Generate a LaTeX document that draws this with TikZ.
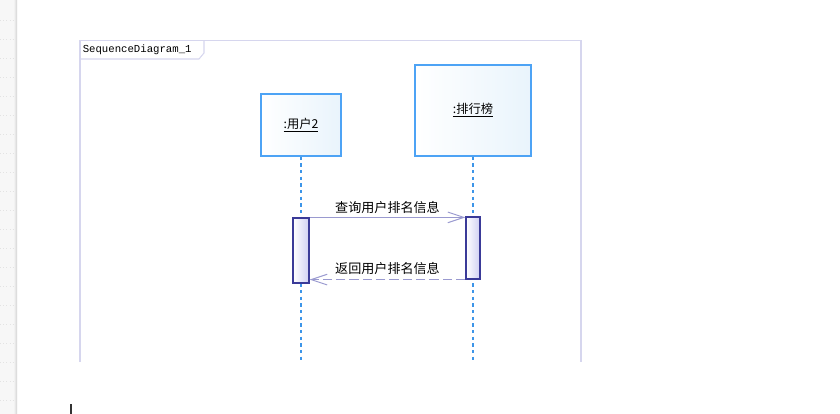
\documentclass[tikz,border=0pt]{standalone}
\usepackage{fontspec}
\usepackage{tikz}
\usetikzlibrary{arrows.meta}
\newfontfamily\cjk{Noto Sans CJK SC}
\setmonofont{Liberation Mono}
\definecolor{framecol}{HTML}{D6D6EE}
\definecolor{boxcol}{HTML}{4DA3F5}
\definecolor{boxfill}{HTML}{E9F4FC}
\definecolor{actcol}{HTML}{3A3A98}
\definecolor{actfill}{HTML}{CFCFF3}
\definecolor{msgcol}{HTML}{9A9AD0}
\definecolor{lifecol}{HTML}{3D95E8}

\begin{document}
\begin{tikzpicture}[x=.75pt,y=-.75pt,
  objbox/.style={draw=boxcol,line width=1pt,left color=white,right color=boxfill,inner sep=0pt,font=\cjk\fontsize{9.2}{10}\selectfont},
  actbox/.style={draw=actcol,line width=.9pt,left color=white,right color=actfill,inner sep=0pt},
  lifeline/.style={draw=lifecol,line width=1pt,dash pattern=on 2.5pt off 2.5pt},
  msg/.style={draw=msgcol,line width=.75pt,-{Straight Barb[length=12pt,width=8pt]}},
  msglabel/.style={font=\cjk\fontsize{9.8}{11}\selectfont,inner sep=1pt}]
\path[use as bounding box] (0,0) rectangle (840,414);

% editor margin
\shade[left color=gray!6,right color=gray!6] (0,0) rectangle (14,414);
\shade[left color=gray!10,right color=gray!35] (14,0) rectangle (17,414);
\foreach \yy in {20,39,...,410}
  \draw[gray!22,line width=.4pt,dotted] (0,\yy)--(14,\yy);
\draw[black!80,line width=.9pt] (71,404)--(71,414);

% frame
\draw[framecol,line width=.8pt] (80,362)--(80,40.5)--(581,40.5)--(581,362);
\draw[framecol,line width=.8pt] (80,59)--(199,59)--(204,53)--(204,40.5);
\node[anchor=west,inner sep=0pt,font=\ttfamily\fontsize{8}{9}\selectfont] (frametitle) at (82.5,49.5) {SequenceDiagram\_1};

% objects
\node[objbox,minimum width=60pt,minimum height=46.5pt] (user) at (301,125) {\underline{:用户2}};
\node[objbox,minimum width=87pt,minimum height=68.25pt] (rank) at (473,110.5) {\underline{:排行榜}};
\coordinate (bottom) at (0,362);

% lifelines
\draw[lifeline] (user.south) -- (user.south |- bottom);
\draw[lifeline] (rank.south) -- (rank.south |- bottom);

% activations
\node[actbox,minimum width=12pt,minimum height=48.75pt] (actUser) at (301,250.5) {};
\node[actbox,minimum width=10.5pt,minimum height=46.5pt] (actRank) at (473,248) {};

% messages
\draw[msg] (actUser.north east) -- (actUser.north east -| actRank.west)
  node[msglabel,midway,above=1.5pt] (qry) {查询用户排名信息};
\draw[msg,dash pattern=on 7pt off 3pt] (actRank.south west) -- (actRank.south west -| actUser.east)
  node[msglabel,midway,above=2.5pt] (ret) {返回用户排名信息};
\end{tikzpicture}
\end{document}
